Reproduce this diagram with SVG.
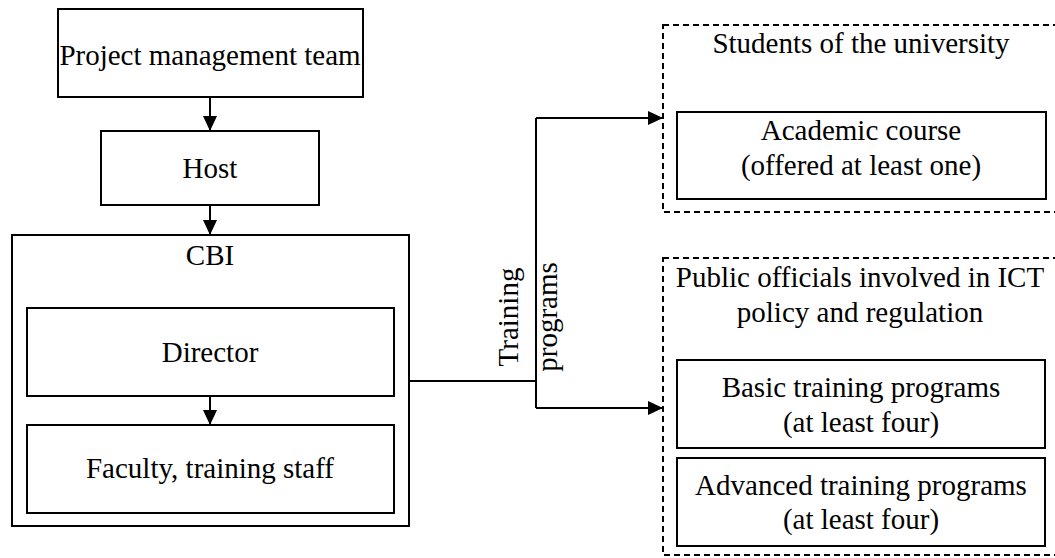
<svg xmlns="http://www.w3.org/2000/svg" width="1055" height="558" viewBox="0 0 1055 558">
<style>
.box{fill:#fff;stroke:#000;stroke-width:2}
.dash{fill:none;stroke:#000;stroke-width:2;stroke-dasharray:6 4}
.t{font-family:"Liberation Serif","Times New Roman",serif;font-size:29px;fill:#000;text-anchor:middle}
.c{fill:none;stroke:#000;stroke-width:2}
</style>
<defs>
<marker id="ah" markerWidth="15" markerHeight="14" refX="15" refY="7" orient="auto" markerUnits="userSpaceOnUse">
<path d="M0,0 L15,7 L0,14 Z" fill="#000"/>
</marker>
</defs>
<rect width="1055" height="558" fill="#fff"/>
<g id="pmt"><rect class="box" x="58" y="9" width="305" height="88"/><text class="t" x="210" y="65">Project management team</text></g>
<g id="host"><rect class="box" x="101" y="131" width="218" height="74"/><text class="t" x="210" y="178">Host</text></g>
<g id="cbi"><rect class="box" x="12" y="235" width="397" height="291"/><text class="t" x="210" y="265">CBI</text></g>
<g id="director"><rect class="box" x="27" y="308" width="367" height="88"/><text class="t" x="210" y="362">Director</text></g>
<g id="faculty"><rect class="box" x="27" y="425" width="367" height="88"/><text class="t" x="210" y="478">Faculty, training staff</text></g>
<g id="students"><rect class="dash" x="663" y="25" width="400" height="187"/><text class="t" x="861" y="53">Students of the university</text></g>
<g id="academic"><rect class="box" x="677" y="112" width="369" height="87"/><text class="t" x="861" y="140">Academic course</text><text class="t" x="861" y="175">(offered at least one)</text></g>
<g id="officials"><rect class="dash" x="663" y="258" width="400" height="297"/><text class="t" x="860" y="287">Public officials involved in ICT</text><text class="t" x="860" y="322">policy and regulation</text></g>
<g id="basic"><rect class="box" x="677" y="360" width="368" height="88"/><text class="t" x="861" y="397">Basic training programs</text><text class="t" x="861" y="432">(at least four)</text></g>
<g id="advanced"><rect class="box" x="677" y="458" width="368" height="88"/><text class="t" x="861" y="495">Advanced training programs</text><text class="t" x="861" y="529">(at least four)</text></g>
<g id="connectors">
<path class="c" d="M210,97 L210,131" marker-end="url(#ah)"/>
<path class="c" d="M210,205 L210,235" marker-end="url(#ah)"/>
<path class="c" d="M210,396 L210,425" marker-end="url(#ah)"/>
<path class="c" d="M409,381 L536,381"/>
<path class="c" d="M536,118 L536,408"/>
<path class="c" d="M536,118 L663,118" marker-end="url(#ah)"/>
<path class="c" d="M536,408 L663,408" marker-end="url(#ah)"/>
<text class="t" transform="translate(518,317) rotate(-90)">Training</text>
<text class="t" transform="translate(557,317) rotate(-90)">programs</text>
</g>
</svg>
